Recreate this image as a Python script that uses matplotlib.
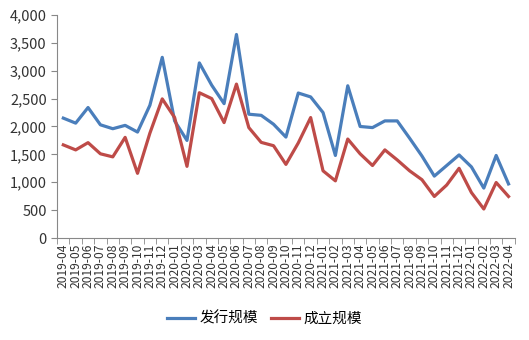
import matplotlib as mpl
mpl.use('Agg')
import matplotlib.pyplot as plt
from matplotlib.ticker import FuncFormatter

plt.rcParams['font.family'] = ['Noto Sans CJK SC', 'DejaVu Sans']

# months 2019-04 .. 2022-04
months = []
for y in range(2019, 2023):
    for m in range(1, 13):
        if (y == 2019 and m < 4) or (y == 2022 and m > 4):
            continue
        months.append('%d-%02d' % (y, m))

# 发行规模
issue = [2150, 2060, 2340, 2030, 1960, 2020, 1900, 2380, 3240,
         2100, 1750, 3140, 2740, 2410, 3650, 2220, 2200, 2040, 1810, 2600, 2530,
         2250, 1480, 2730, 2000, 1980, 2100, 2100, 1790, 1470, 1110, 1300, 1490,
         1275, 895, 1480, 970]
# 成立规模
found = [1670, 1580, 1710, 1510, 1455, 1805, 1160, 1880, 2495,
         2160, 1285, 2605, 2500, 2070, 2760, 1980, 1715, 1655, 1320, 1705, 2160,
         1205, 1025, 1775, 1510, 1300, 1580, 1400, 1205, 1045, 745, 950, 1250,
         815, 520, 995, 745]

fig = plt.figure(figsize=(5.29, 3.40), dpi=100)
ax = fig.add_axes([0.108, 0.30, 0.865, 0.656])

x = list(range(len(months)))
ax.plot(x, issue, color='#4A7EBB', linewidth=2.3, label='发行规模')
ax.plot(x, found, color='#BE4B48', linewidth=2.3, label='成立规模')

ax.set_xlim(-0.5, len(months) - 0.5)
ax.set_ylim(0, 4000)
ax.set_yticks(range(0, 4001, 500))
ax.yaxis.set_major_formatter(FuncFormatter(lambda v, p: '{:,}'.format(int(v))))

ax.set_xticks(x)
ax.set_xticklabels(months, rotation=90, fontsize=8.7)
ax.set_xticks([i - 0.5 for i in range(len(months) + 1)], minor=True)
ax.tick_params(axis='x', which='major', length=0, pad=4, colors='#333333')
ax.tick_params(axis='x', which='minor', length=4, color='#888888')
ax.tick_params(axis='y', labelsize=10.5, length=4, color='#888888', colors='#333333')

for s in ['top', 'right']:
    ax.spines[s].set_visible(False)
ax.spines['left'].set_color('#888888')
ax.spines['bottom'].set_color('#888888')

fig.legend(loc='center', bbox_to_anchor=(0.5, 0.063), ncol=2, frameon=False,
           fontsize=10.5, handlelength=1.9, columnspacing=0.9, handletextpad=0.3)

plt.savefig('out.png', dpi=100)
plt.close()
